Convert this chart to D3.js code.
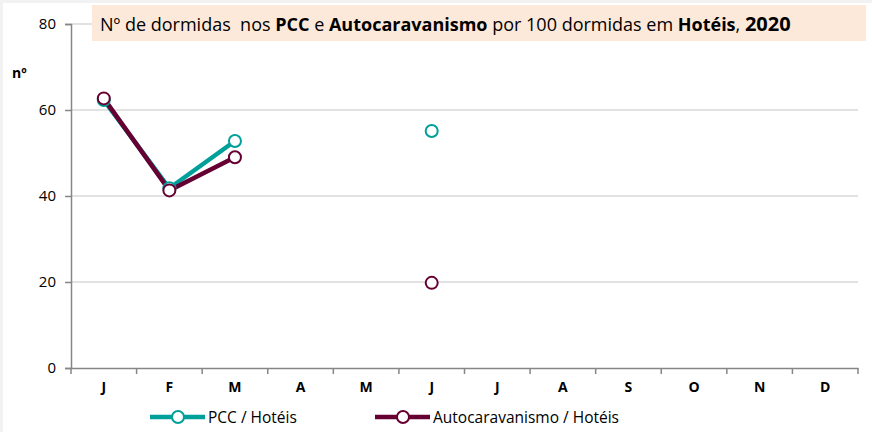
<!DOCTYPE html>
<html>
<head>
<meta charset="utf-8">
<script src="https://cdn.jsdelivr.net/npm/d3@7"></script>
<style>
	body { margin: 0; background: #f2f2f2; }
	svg { display: block; font-family: "Open Sans", "Noto Sans", sans-serif; }
</style>
</head>
<body>
<svg id="chart" width="872" height="432"></svg>
<script>

var months = ["J", "F", "M", "A", "M", "J", "J", "A", "S", "O", "N", "D"];
var pccHoteis = [62.3, 41.8, 52.8, null, null, 55.1, null, null, null, null, null, null];
var autoHoteis = [62.7, 41.3, 49.0, null, null, 19.8, null, null, null, null, null, null];
var yTicks = [0, 20, 40, 60, 80];

var tealColor = "#00a09a";
var maroonColor = "#660033";

var svg = d3.select("#chart");

svg.append("rect")
	.attr("x", 3).attr("y", 3)
	.attr("width", 869).attr("height", 429)
	.attr("fill", "#fff");

var margin = { left: 71, right: 14, top: 24, bottom: 64 };
var width = 872 - margin.left - margin.right;
var height = 432 - margin.top - margin.bottom;

var g = svg.append("g")
	.attr("transform", "translate(" + margin.left + "," + margin.top + ")");

var x = d3.scaleBand()
	.domain(d3.range(months.length))
	.range([0, width]);

var y = d3.scaleLinear()
	.domain([0, 80])
	.range([height, 0]);

// gridlines
g.selectAll(".grid")
	.data(yTicks.filter(function(d) { return d > 0; }))
	.enter().append("line")
	.attr("x1", 0)
	.attr("x2", width)
	.attr("y1", function(d) { return y(d); })
	.attr("y2", function(d) { return y(d); })
	.attr("stroke", "#d9d9d9")
	.attr("stroke-width", 1.5);

// title box
svg.append("rect")
	.attr("x", 92).attr("y", 5)
	.attr("width", 774).attr("height", 36)
	.attr("fill", "#fde9d9");

var title = svg.append("text")
	.attr("x", 100)
	.attr("y", 31)
	.attr("font-size", 18)
	.style("white-space", "pre")
	.attr("fill", "#000");
title.append("tspan").text("Nº de dormidas  nos ");
title.append("tspan").attr("font-weight", "bold").text("PCC");
title.append("tspan").text(" e ");
title.append("tspan").attr("font-weight", "bold").text("Autocaravanismo");
title.append("tspan").text(" por 100 dormidas em ");
title.append("tspan").attr("font-weight", "bold").text("Hotéis");
title.append("tspan").text(", ");
title.append("tspan").attr("font-weight", "bold").attr("font-size", 20).text("2020");

// y axis
var yAxis = d3.axisLeft(y)
	.tickValues(yTicks)
	.tickSize(6)
	.tickPadding(9);

var yG = g.append("g").call(yAxis);
yG.select(".domain").attr("stroke", "#868686").attr("stroke-width", 1.5);
yG.selectAll(".tick line").attr("stroke", "#868686").attr("stroke-width", 1.5);
yG.selectAll(".tick text")
	.attr("font-size", 15)
	.attr("font-family", "Open Sans, sans-serif")
	.attr("fill", "#000");

// x axis
var xAxis = d3.axisBottom(x)
	.tickSize(0)
	.tickPadding(14)
	.tickFormat(function(i) { return months[i]; });

var xG = g.append("g")
	.attr("transform", "translate(0," + height + ")")
	.call(xAxis);
xG.select(".domain").attr("stroke", "#868686").attr("stroke-width", 1.5);
xG.selectAll(".tick text")
	.attr("font-size", 14)
	.attr("font-weight", "bold")
	.attr("font-family", "Open Sans, sans-serif")
	.attr("fill", "#000");

xG.selectAll(".boundary")
	.data(d3.range(months.length + 1))
	.enter().append("line")
	.attr("x1", function(i) { return i * x.step(); })
	.attr("x2", function(i) { return i * x.step(); })
	.attr("y1", 0)
	.attr("y2", 6)
	.attr("stroke", "#868686")
	.attr("stroke-width", 1.5);

svg.append("text")
	.attr("x", 12)
	.attr("y", 78)
	.attr("font-size", 14)
	.attr("font-weight", "bold")
	.text("nº");

// series
var series = [
	{ name: "PCC / Hotéis", values: pccHoteis, color: tealColor },
	{ name: "Autocaravanismo / Hotéis", values: autoHoteis, color: maroonColor }
];

var line = d3.line()
	.defined(function(d) { return d != null; })
	.x(function(d, i) { return x(i) + x.bandwidth() / 2; })
	.y(function(d) { return y(d); });

series.forEach(function(s) {
	g.append("path")
		.datum(s.values)
		.attr("fill", "none")
		.attr("stroke", s.color)
		.attr("stroke-width", 4.5)
		.attr("stroke-linejoin", "round")
		.attr("d", line);
});

series.forEach(function(s) {
	g.selectAll(null)
		.data(s.values.map(function(v, i) { return { v: v, i: i }; }).filter(function(d) { return d.v != null; }))
		.enter().append("circle")
		.attr("cx", function(d) { return x(d.i) + x.bandwidth() / 2; })
		.attr("cy", function(d) { return y(d.v); })
		.attr("r", 6)
		.attr("fill", "#fff")
		.attr("stroke", s.color)
		.attr("stroke-width", 2);
});

// legend
var legendX = [150, 375];
var legend = svg.selectAll(".legend")
	.data(series)
	.enter().append("g")
	.attr("transform", function(d, i) { return "translate(" + legendX[i] + ",417)"; });

legend.append("line")
	.attr("x1", 0).attr("x2", 55)
	.attr("stroke", function(d) { return d.color; })
	.attr("stroke-width", 4.5);
legend.append("circle")
	.attr("cx", 28)
	.attr("r", 6)
	.attr("fill", "#fff")
	.attr("stroke", function(d) { return d.color; })
	.attr("stroke-width", 2);
legend.append("text")
	.attr("x", 58)
	.attr("y", 5.5)
	.attr("font-size", 15.5)
	.text(function(d) { return d.name; });

</script>
</body>
</html>
